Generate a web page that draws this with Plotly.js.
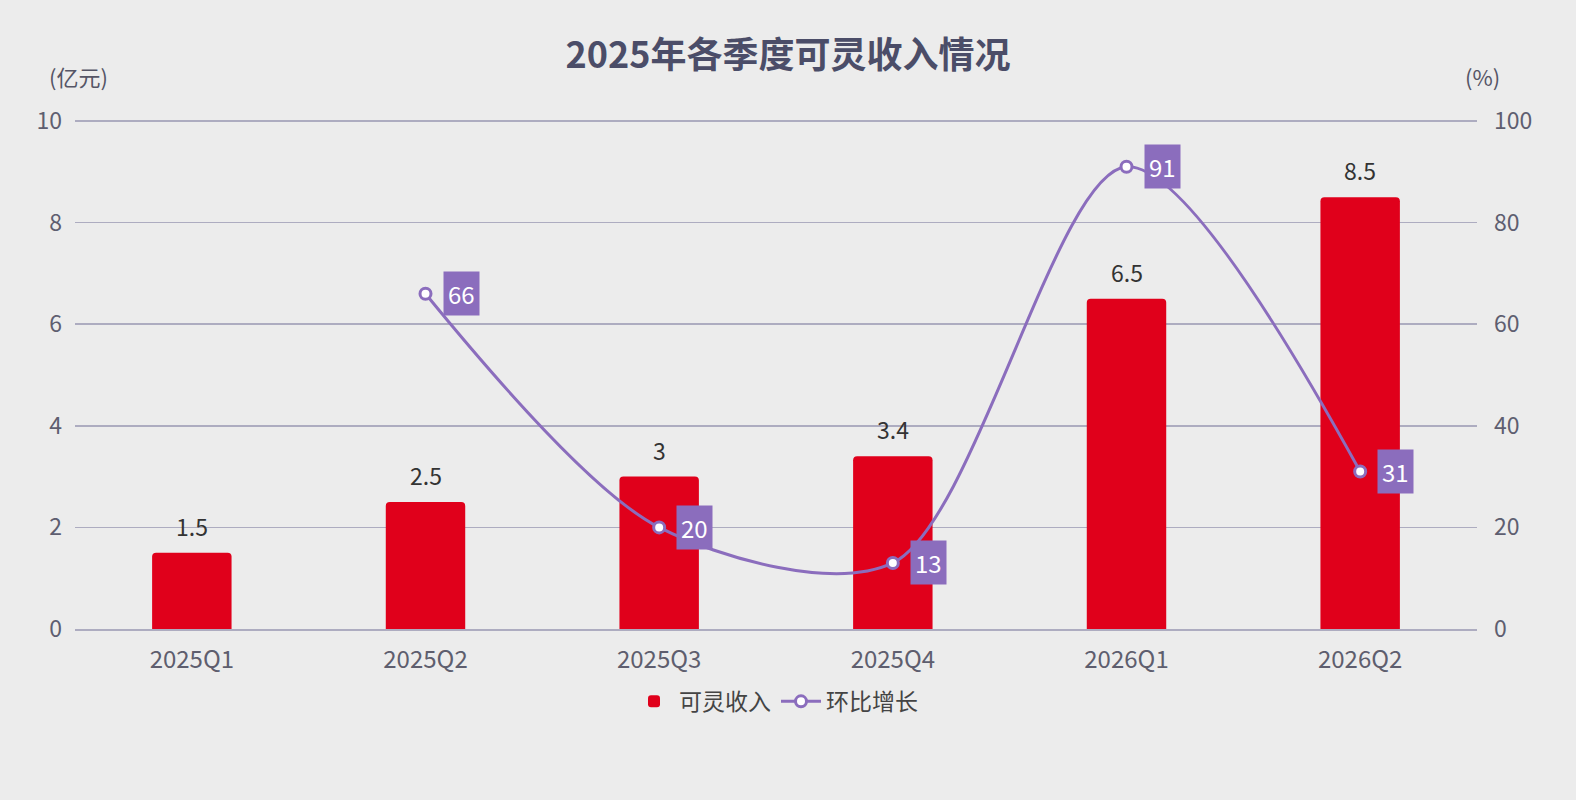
<!DOCTYPE html>
<html>
<head>
<meta charset="utf-8">
<script src="https://cdn.plot.ly/plotly-3.0.1.min.js"></script>
<style>
  html, body { margin: 0; padding: 0; background: #ececec; }
  #chart { width: 1576px; height: 800px; }
</style>
</head>
<body>
<div id="chart"></div>
<script>
// quarterly data
const quarters = ['2025Q1', '2025Q2', '2025Q3', '2025Q4', '2026Q1', '2026Q2'];
const revenue = [1.5, 2.5, 3, 3.4, 6.5, 8.5];          // 亿元
const growth = [null, 66, 20, 13, 91, 31];              // %
const leftTicks = [0, 2, 4, 6, 8, 10];
const rightTicks = [0, 20, 40, 60, 80, 100];

const FONT = '"Noto Sans CJK SC", "Noto Sans", sans-serif';
const PURPLE = '#8b6dbd';
const RED = '#e0001b';
const GRID = '#adacc0';

const ML = 75, MR = 99, MT = 120, MB = 171, W = 1576, H = 800;

const traces = [
  {
    x: quarters,
    y: revenue,
    type: 'bar',
    name: '可灵收入',
    marker: { color: RED },
    width: 0.34,
    hoverinfo: 'x+y'
  },
  {
    x: quarters,
    y: growth,
    type: 'scatter',
    mode: 'lines+markers',
    name: '环比增长',
    yaxis: 'y2',
    line: { color: PURPLE, width: 3, shape: 'spline', smoothing: 0.85 },
    marker: { size: 11, color: '#ffffff', line: { color: PURPLE, width: 3 } },
    connectgaps: false,
    cliponaxis: false
  }
];

// value labels above the bars
const annotations = quarters.map((q, i) => ({
  x: q,
  y: revenue[i],
  xref: 'x',
  yref: 'y',
  text: String(revenue[i]),
  showarrow: false,
  yanchor: 'bottom',
  yshift: 8,
  font: { size: 23, color: '#333333', family: FONT }
}));

// purple value boxes next to the growth points
quarters.forEach((q, i) => {
  if (growth[i] === null) return;
  annotations.push({
    x: q,
    y: growth[i],
    xref: 'x',
    yref: 'y2',
    text: String(growth[i]),
    showarrow: false,
    xanchor: 'left',
    xshift: 17,
    bgcolor: PURPLE,
    borderpad: 4,
    font: { size: 24, color: '#ffffff', family: FONT }
  });
});

// unit labels, placed by pixel and converted to paper coords
const unitLabels = [
  { text: '(亿元)', px: 78, py: 76 },
  { text: '(%)', px: 1482, py: 76 }
];
unitLabels.forEach(u => annotations.push({
  x: (u.px - ML) / (W - ML - MR),
  y: (H - MB - u.py) / (H - MT - MB),
  xref: 'paper', yref: 'paper',
  text: u.text, showarrow: false,
  xanchor: 'center', yanchor: 'middle',
  font: { size: 22, color: '#555566', family: FONT }
}));

const layout = {
  width: W,
  height: H,
  paper_bgcolor: '#ececec',
  plot_bgcolor: '#ececec',
  font: { family: FONT, size: 22, color: '#5a5a6e' },
  title: {
    text: '<b>2025年各季度可灵收入情况</b>',
    font: { size: 36, color: '#4b4d68', family: FONT },
    x: 0.5, xanchor: 'center',
    y: 1 - 55 / H, yanchor: 'middle'
  },
  margin: { l: ML, r: MR, t: MT, b: MB, autoexpand: false },
  barcornerradius: 4,
  showlegend: true,
  legend: {
    orientation: 'h',
    x: 0.5, xanchor: 'center',
    y: -0.1, yanchor: 'top',
    font: { size: 23, color: '#444444', family: FONT },
    itemwidth: 40
  },
  xaxis: {
    type: 'category',
    automargin: false,
    tickfont: { size: 24, color: '#5e5e6e' },
    showgrid: false,
    showline: true,
    linecolor: GRID,
    linewidth: 2,
    ticks: '',
    ticklabelstandoff: 8
  },
  yaxis: {
    range: [0, 10.02],
    automargin: false,
    tickmode: 'array',
    tickvals: leftTicks,
    ticktext: leftTicks.map(String),
    showgrid: true,
    gridcolor: GRID,
    gridwidth: 1.5,
    zeroline: false,
    ticks: '',
    ticklabelstandoff: 12,
    tickfont: { size: 23, color: '#5e5e70' },
    fixedrange: true
  },
  yaxis2: {
    range: [0, 100.2],
    automargin: false,
    overlaying: 'y',
    side: 'right',
    tickmode: 'array',
    tickvals: rightTicks,
    ticktext: rightTicks.map(String),
    showgrid: false,
    zeroline: false,
    ticks: '',
    ticklabelstandoff: 16,
    tickfont: { size: 23, color: '#5e5e70' },
    fixedrange: true
  },
  annotations
};

Plotly.newPlot('chart', traces, layout, { displayModeBar: false, staticPlot: true });
</script>
</body>
</html>
